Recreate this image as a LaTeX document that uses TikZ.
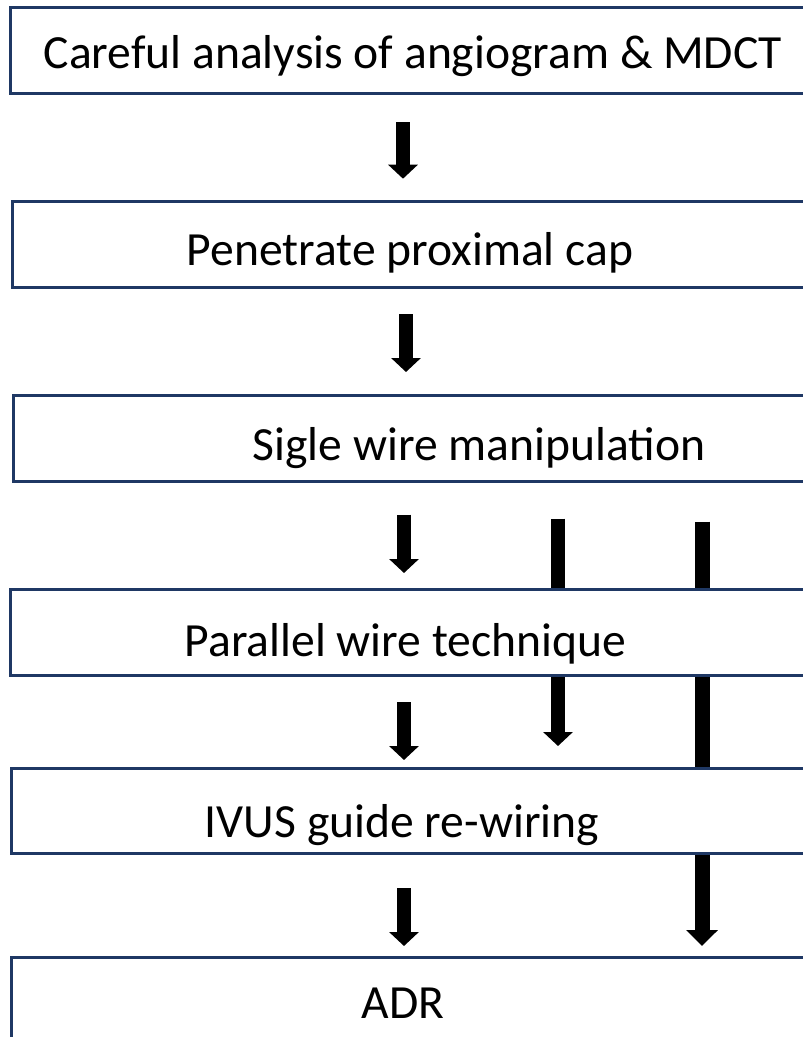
\documentclass[tikz,border=0pt]{standalone}
\usepackage{fontspec}
\setmainfont{Carlito}
\usetikzlibrary{calc, arrows.meta}

\definecolor{boxblue}{RGB}{31,56,100}
\pgfdeclarelayer{bg}
\pgfsetlayers{bg,main}

\tikzset{
    stepbox/.style={draw=boxblue, line width=3pt, fill=white, anchor=north west,
        minimum width=805pt, minimum height=86pt, inner sep=0pt, outer sep=0pt},
    steptext/.style={anchor=base, inner sep=0pt, font=\fontsize{47.6}{57}\selectfont},
    flowarrow/.style={line width=14pt, -{Triangle[width=29pt, length=14pt]}},
    longarrow/.style={line width=15pt, -{Triangle[width=31pt, length=16pt]}}
}

\begin{document}
\begin{tikzpicture}[x=1pt, y=-1pt]
    \useasboundingbox (0,0) rectangle (803,1037);
    \clip (0,0) rectangle (803,1037);

    % columns of the arrows
    \coordinate (main) at (404,0);
    \coordinate (mid) at (558,0);
    \coordinate (side) at (702,0);

    \node[stepbox, minimum height=85.7pt] (b1) at (10.5,7.3) {};
    \node[stepbox, minimum height=85.3pt] (b2) at (12.7,201.7) {};
    \node[stepbox, minimum height=86.7pt] (b3) at (13,395) {};
    \node[stepbox] (b4) at (10.3,589) {};
    \node[stepbox, minimum height=85pt] (b5) at (11,768) {};
    \node[stepbox, minimum height=90pt] (b6) at (11,957) {};

    \node[steptext] (t1) at (413,68) {Careful analysis of angiogram \& MDCT};
    \node[steptext] (t2) at (410,265) {Penetrate proximal cap};
    \node[steptext] (t3) at (479,460) {Sigle wire manipulation};
    \node[steptext] (t4) at (405.5,656) {Parallel wire technique};
    \node[steptext] (t5) at (402,837) {IVUS guide re-wiring};
    \node[steptext] (t6) at (403,1018) {ADR};

    \begin{pgfonlayer}{bg}
        \draw[flowarrow, shorten <=29pt, shorten >=23pt]
            ($(b1.south -| main)+(-1,0)$) -- ($(b2.north -| main)+(-1,0)$);
        \draw[flowarrow, shorten <=27pt, shorten >=23pt]
            ($(b2.south -| main)+(2,0)$) -- ($(b3.north -| main)+(2,0)$);
        \draw[flowarrow, shorten <=33pt, shorten >=16pt] (b3.south -| main) -- (b4.north -| main);
        \draw[flowarrow, shorten <=27pt, shorten >=8pt] (b4.south -| main) -- (b5.north -| main);
        \draw[flowarrow, shorten <=35pt, shorten >=11pt] (b5.south -| main) -- (b6.north -| main);
        \draw[flowarrow, shorten <=37pt, shorten >=22pt] (b3.south -| mid) -- (b5.north -| mid);
        \draw[longarrow, shorten <=40pt, shorten >=11pt] (b3.south -| side) -- (b6.north -| side);
    \end{pgfonlayer}
\end{tikzpicture}
\end{document}
